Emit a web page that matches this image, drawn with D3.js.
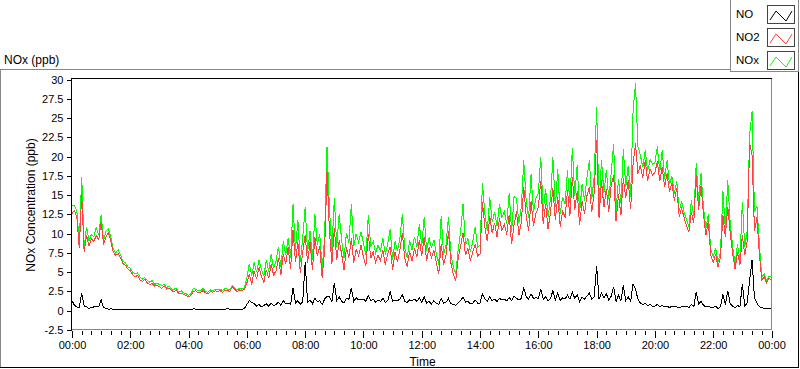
<!DOCTYPE html>
<meta charset="utf-8">
<style>
body { margin: 0; background: #fff; }
svg text { font-family: "Liberation Sans", Arial, sans-serif; fill: #000; }
.axis text { font-size: 11px; }
.axis line { stroke: #000; shape-rendering: crispEdges; }
.axis path { display: none; }
.frame { shape-rendering: crispEdges; fill: none; }
.trace { fill: none; stroke-width: 1; shape-rendering: crispEdges; }
</style>
<body>
<script src="https://cdn.jsdelivr.net/npm/d3@7/dist/d3.min.js"></script>
<script>
// one sample every 5 minutes, 00:00 -> 24:00
var stepMinutes = 5;

var no2 = [
  12.6, 13.0, 12.1, 8.1, 15.2, 7.6, 9.8, 8.4, 9.3, 9.0, 9.8, 9.2,
  11.5, 8.6, 9.6, 10.1, 9.0, 7.6, 7.2, 7.4, 6.9, 6.1, 5.9, 5.4,
  5.2, 4.7, 4.4, 4.6, 4.0, 3.8, 4.1, 3.6, 3.4, 3.5, 3.2, 3.3,
  3.1, 2.9, 3.2, 2.8, 2.9, 2.6, 2.5, 2.7, 2.2, 2.3, 2.1, 2.0,
  1.8, 2.0, 2.5, 2.6, 2.3, 2.4, 2.6, 2.3, 2.2, 2.5, 2.4, 2.6,
  2.5, 2.6, 2.4, 2.7, 2.6, 2.5, 3.1, 2.8, 2.5, 2.7, 2.6, 2.8,
  3.6, 4.8, 3.4, 5.2, 4.1, 5.6, 4.4, 3.7, 5.3, 4.2, 6.1, 4.6,
  5.2, 6.8, 4.6, 7.4, 6.1, 8.2, 5.4, 10.5, 6.3, 8.9, 4.9, 7.6,
  9.8, 6.2, 8.9, 5.3, 9.6, 7.1, 8.4, 4.3, 7.8, 18.0, 10.2, 6.1,
  10.7, 6.6, 9.1, 7.4, 5.3, 8.2, 6.9, 9.4, 6.2, 8.0, 7.1, 8.5,
  7.0, 5.8, 9.9, 6.8, 7.6, 6.3, 7.2, 6.5, 7.9, 6.0, 7.4, 8.3,
  5.3, 7.6, 6.4, 7.9, 10.1, 6.8, 5.7, 7.7, 6.5, 8.1, 7.0, 9.2,
  7.1, 9.6, 6.5, 8.2, 6.9, 7.8, 6.2, 4.8, 8.6, 6.0, 7.3, 10.3,
  6.2, 4.7, 3.9, 6.8, 8.4, 10.1, 7.2, 8.1, 6.5, 7.6, 8.6, 7.1,
  7.4, 14.1, 10.8, 9.0, 12.3, 10.1, 11.4, 9.6, 12.0, 10.4, 11.2, 9.9,
  12.4, 8.6, 11.1, 12.9, 9.8, 11.5, 16.1, 12.3, 10.4, 14.2, 11.0, 12.6,
  13.4, 16.8, 11.2, 13.9, 10.6, 12.7, 15.9, 11.8, 14.8, 10.9, 13.0, 12.1,
  15.6, 12.3, 17.4, 13.1, 15.5, 11.1, 14.2, 12.6, 14.9, 16.0, 12.8, 15.3,
  22.1, 12.0, 16.9, 13.4, 15.8, 12.8, 16.3, 17.6, 11.6, 15.1, 12.4, 17.2,
  14.6, 16.9, 13.2, 19.0, 21.7, 17.8, 18.9, 17.2, 19.5, 16.8, 18.4, 17.6,
  17.9, 19.4, 16.8, 18.6, 16.0, 17.8, 15.4, 16.6, 14.3, 15.9, 12.2, 13.3,
  12.1, 11.0, 10.2, 12.8, 11.4, 17.6, 13.1, 16.2, 12.4, 9.8, 11.6, 7.2,
  6.3, 7.3, 5.7, 6.9, 12.4, 9.6, 13.5, 10.1, 7.4, 5.4, 7.6, 5.9,
  9.8, 7.2, 9.1, 21.7, 20.2, 10.3, 12.1, 7.4, 4.0, 4.4, 3.6, 4.2,
  4.0
];

var nox = [
  13.6, 13.7, 12.9, 8.8, 17.4, 8.3, 10.9, 9.0, 9.9, 9.6, 10.8, 9.8,
  12.4, 9.1, 10.4, 10.6, 9.5, 8.0, 7.5, 7.9, 7.2, 6.4, 6.2, 5.7,
  5.5, 5.0, 4.8, 4.9, 4.4, 4.1, 4.3, 3.9, 3.7, 3.9, 3.4, 3.6,
  3.4, 3.3, 3.4, 3.0, 3.2, 2.8, 2.8, 2.9, 2.4, 2.6, 2.3, 2.2,
  2.0, 2.2, 2.9, 2.8, 2.6, 2.6, 2.9, 2.5, 2.4, 2.7, 2.6, 2.8,
  2.7, 2.8, 2.6, 2.9, 2.8, 2.7, 3.3, 3.0, 2.7, 2.9, 2.8, 3.0,
  4.3, 6.1, 4.5, 6.3, 5.0, 6.6, 5.3, 4.5, 6.6, 5.1, 7.4, 5.5,
  6.4, 8.3, 5.7, 9.0, 7.3, 9.4, 6.8, 13.8, 7.8, 11.8, 6.3, 9.5,
  13.4, 7.5, 10.4, 6.6, 12.5, 8.6, 10.0, 5.4, 9.6, 21.3, 13.3, 7.8,
  14.6, 8.3, 12.6, 9.2, 6.8, 10.1, 8.8, 13.8, 8.4, 10.0, 8.9, 10.2,
  8.8, 7.2, 12.4, 8.3, 9.0, 7.5, 8.5, 7.8, 9.4, 7.3, 8.7, 10.6,
  6.6, 9.0, 7.8, 9.4, 12.5, 8.1, 6.9, 9.1, 7.9, 9.6, 8.3, 11.2,
  8.4, 12.2, 7.8, 9.5, 8.1, 9.2, 7.4, 6.0, 12.3, 7.2, 8.6, 12.2,
  7.3, 5.7, 4.8, 7.9, 10.2, 13.9, 8.5, 9.4, 7.6, 8.9, 10.9, 8.2,
  8.5, 16.6, 12.5, 10.4, 14.7, 11.5, 12.8, 11.0, 13.8, 12.1, 12.9, 11.3,
  15.3, 10.2, 14.8, 14.6, 11.4, 13.4, 19.5, 14.2, 12.0, 17.7, 12.8, 14.6,
  15.2, 20.0, 12.9, 15.8, 12.2, 14.5, 19.9, 13.4, 18.4, 12.5, 14.8, 13.8,
  18.2, 14.0, 21.1, 14.9, 18.9, 12.7, 16.4, 14.3, 17.2, 19.5, 14.5, 17.4,
  26.4, 13.6, 19.6, 15.3, 18.2, 14.5, 17.9, 21.6, 13.0, 17.1, 14.0, 21.0,
  16.0, 18.8, 14.8, 25.9, 29.5, 21.3, 20.2, 18.6, 20.8, 18.1, 19.6, 19.0,
  19.2, 21.3, 18.0, 20.8, 17.1, 19.5, 16.4, 17.4, 15.2, 16.8, 12.9, 14.2,
  12.8, 11.8, 10.9, 14.3, 12.3, 19.1, 14.2, 17.8, 13.4, 10.6, 12.5, 7.9,
  7.0, 8.1, 6.3, 7.6, 15.5, 10.6, 16.9, 11.3, 8.4, 6.0, 8.6, 6.6,
  14.1, 8.3, 10.4, 22.8, 25.9, 12.8, 13.6, 8.7, 4.3, 4.8, 3.9, 4.5,
  4.4
];

var no = [
  1.3, 0.7, 0.5, 0.4, 2.3, 0.6, 0.5, 0.3, 0.4, 0.5, 0.6, 0.5,
  1.4, 0.4, 0.3, 0.2, 0.25, 0.2, 0.15, 0.2, 0.2, 0.15, 0.2, 0.15,
  0.2, 0.15, 0.2, 0.1, 0.2, 0.15, 0.2, 0.15, 0.1, 0.2, 0.15, 0.2,
  0.15, 0.2, 0.15, 0.2, 0.1, 0.2, 0.15, 0.2, 0.15, 0.1, 0.2, 0.15,
  0.2, 0.15, 0.25, 0.2, 0.15, 0.2, 0.1, 0.2, 0.15, 0.2, 0.15, 0.2,
  0.15, 0.2, 0.15, 0.2, 0.25, 0.2, 0.15, 0.2, 0.15, 0.2, 0.15, 0.3,
  0.8, 1.3, 1.1, 0.9, 0.6, 0.8, 0.5, 0.7, 0.9, 0.6, 1.0, 0.7,
  0.8, 1.1, 0.7, 1.3, 0.9, 1.0, 0.8, 3.0, 1.0, 1.3, 0.8, 1.2,
  6.3, 1.1, 1.4, 0.9, 1.6, 1.2, 1.3, 0.8, 1.5, 1.9, 1.8, 1.2,
  3.6, 1.3, 1.8, 1.2, 1.0, 1.6, 1.5, 3.0, 1.2, 1.7, 1.4, 1.5,
  1.5, 1.2, 2.0, 1.3, 1.5, 1.1, 1.4, 1.2, 1.6, 1.1, 1.3, 2.5,
  1.2, 1.4, 1.3, 1.5, 2.1, 1.2, 1.1, 1.4, 1.3, 1.5, 1.2, 1.7,
  1.1, 1.8, 1.0, 1.2, 0.9, 1.3, 1.0, 0.8, 1.6, 1.0, 1.1, 1.6,
  0.9, 0.8, 0.7, 1.0, 1.3, 1.8, 1.1, 1.2, 0.9, 1.0, 1.4, 1.0,
  1.0, 2.2, 1.5, 1.2, 1.8, 1.3, 1.5, 1.2, 1.6, 1.4, 1.5, 1.3,
  1.7, 1.3, 1.9, 1.6, 1.4, 1.6, 3.0, 1.8, 1.5, 2.2, 1.6, 1.7,
  1.6, 2.8, 1.5, 1.8, 1.3, 1.6, 2.6, 1.4, 2.3, 1.3, 1.7, 1.5,
  2.0, 1.5, 2.4, 1.6, 2.1, 1.2, 1.8, 1.5, 1.9, 2.3, 1.5, 1.8,
  5.8, 1.5, 2.3, 1.7, 2.2, 1.4, 1.9, 3.1, 1.2, 2.0, 1.3, 3.3,
  1.3, 1.8, 1.2, 3.5, 2.8, 1.5, 1.0, 0.8, 1.0, 0.7, 0.8, 0.6,
  0.6, 0.8, 0.5, 0.7, 0.5, 0.6, 0.4, 0.6, 0.5, 0.5, 0.4, 0.5,
  0.5, 0.6, 0.4, 0.8, 0.5, 2.4, 0.9, 1.2, 0.7, 0.5, 0.6, 0.4,
  0.4, 0.6, 0.3, 0.5, 2.1, 0.8, 2.6, 0.9, 0.6, 0.4, 0.7, 0.5,
  3.5, 0.6, 1.0, 4.0, 6.6, 1.6, 1.0, 0.5, 0.4, 0.3, 0.35, 0.3,
  0.3
];

var hourTicks = [0, 2, 4, 6, 8, 10, 12, 14, 16, 18, 20, 22, 24];
var hourLabels = ["00:00", "02:00", "04:00", "06:00", "08:00", "10:00", "12:00",
                  "14:00", "16:00", "18:00", "20:00", "22:00", "00:00"];
var yTicks = [-2.5, 0, 2.5, 5, 7.5, 10, 12.5, 15, 17.5, 20, 22.5, 25, 27.5, 30];
var legendNames = ["NO", "NO2", "NOx"];

var colors = {NO: "#000000", NO2: "#ff4040", NOx: "#00ff00"};

var W = 800, H = 369;
var plot = {left: 71, right: 772, top: 78, bottom: 330};

var svg = d3.select("body").append("svg")
    .attr("width", W)
    .attr("height", H);

var x = d3.scaleLinear().domain([0, 24]).range([72, 771.5]);
var y = d3.scaleLinear().domain([-2.5, 30]).range([330, 79.5]);

// outer frame
svg.append("path").attr("class", "frame")
    .attr("d", "M0.5,368 V69.5 H730")
    .attr("stroke", "#888");
svg.append("path").attr("class", "frame")
    .attr("d", "M0,367.5 H798.5 V72")
    .attr("stroke", "#000");

svg.append("text")
    .attr("x", 4).attr("y", 63.5)
    .style("font-size", "12px")
    .text("NOx (ppb)");

// legend
var lg = svg.append("g");
lg.append("rect").attr("class", "frame")
    .attr("x", 730.5).attr("y", -1)
    .attr("width", 68).attr("height", 72.5)
    .attr("stroke", "#888");

var row = lg.selectAll(".row")
    .data(legendNames)
  .enter().append("g")
    .attr("class", "row")
    .attr("transform", function(d, i) { return "translate(0," + (i * 23) + ")"; });

row.append("text")
    .attr("x", 736).attr("y", 17.5)
    .style("font-size", "11.5px")
    .text(function(d) { return d; });

row.append("rect").attr("class", "frame")
    .attr("x", 767.5).attr("y", 5.5)
    .attr("width", 27).attr("height", 18)
    .attr("stroke", "#444");

row.append("path")
    .attr("d", "M770,20 L776,11 L786,21 L792,11")
    .attr("fill", "none")
    .attr("stroke", function(d) { return colors[d]; });

// clip + traces
svg.append("clipPath").attr("id", "clip")
  .append("rect")
    .attr("x", plot.left + 1).attr("y", plot.top + 1)
    .attr("width", plot.right - plot.left - 1)
    .attr("height", plot.bottom - plot.top - 1);

var line = d3.line()
    .x(function(d, i) { return x(i * stepMinutes / 60); })
    .y(function(d) { return y(d); });

var traces = svg.append("g").attr("clip-path", "url(#clip)");
[["NOx", nox], ["NO2", no2], ["NO", no]].forEach(function(s) {
  traces.append("path")
      .datum(s[1])
      .attr("class", "trace")
      .attr("stroke", colors[s[0]])
      .attr("d", line);
});

// plot frame: top/left black, bottom/right grey
svg.append("path").attr("class", "frame")
    .attr("d", "M" + (plot.left + 0.5) + "," + plot.bottom + " V" + (plot.top + 0.5) + " H" + plot.right)
    .attr("stroke", "#000");
svg.append("path").attr("class", "frame")
    .attr("d", "M" + (plot.left + 0.5) + "," + (plot.bottom - 0.5) + " H" + (plot.right - 0.5) + " V" + (plot.top + 0.5))
    .attr("stroke", "#888");

// y axis
svg.append("g")
    .attr("class", "axis")
    .attr("transform", "translate(" + (plot.left + 0.5) + ",0)")
    .call(d3.axisLeft(y).tickValues(yTicks).tickSize(5).tickPadding(3)
      .tickFormat(function(d) { return String(d); }));

// x axis, minor then major ticks
var minor = d3.range(0, 24 * 3 + 1).map(function(k) { return k / 3; });
svg.append("g")
    .attr("class", "axis")
    .attr("transform", "translate(0,331)")
    .call(d3.axisBottom(x).tickValues(minor).tickSize(4).tickFormat(""));
svg.append("g")
    .attr("class", "axis")
    .attr("transform", "translate(0,331)")
    .call(d3.axisBottom(x).tickValues(hourTicks).tickSize(7).tickPadding(3.5)
      .tickFormat(function(d, i) { return hourLabels[i]; }));

svg.append("text")
    .attr("transform", "translate(34.5," + ((plot.top + plot.bottom) / 2 + 1) + ") rotate(-90)")
    .attr("text-anchor", "middle")
    .style("font-size", "12px")
    .text("NOx Concentration (ppb)");

svg.append("text")
    .attr("x", (plot.left + plot.right) / 2 + 1).attr("y", 365.5)
    .attr("text-anchor", "middle")
    .style("font-size", "12px")
    .text("Time");
</script>
